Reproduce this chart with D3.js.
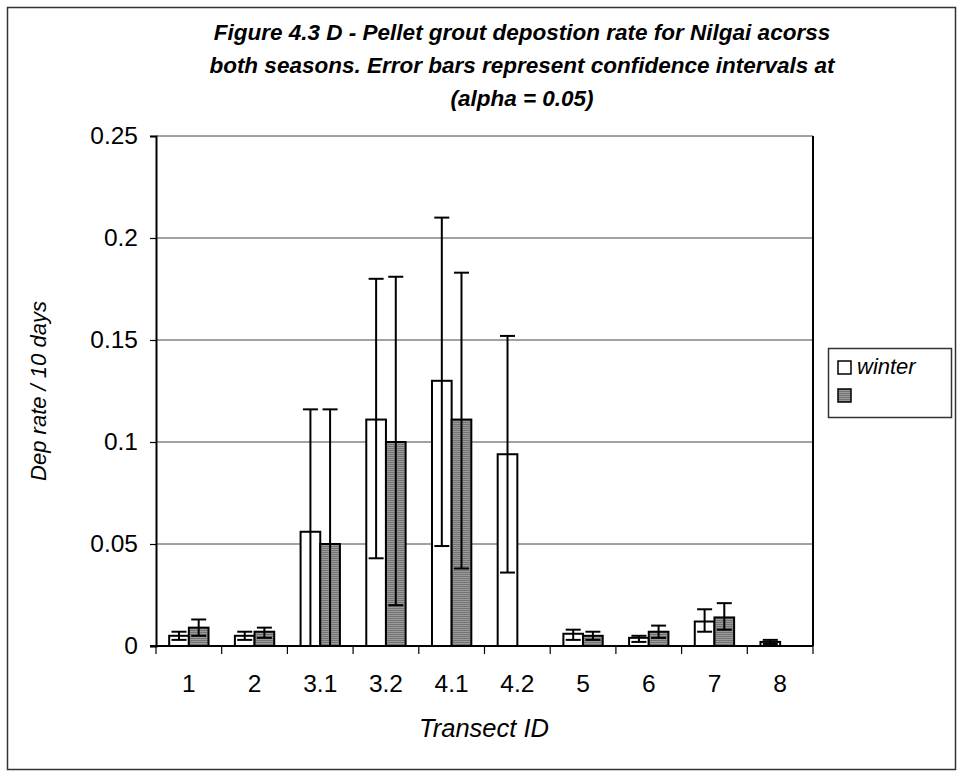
<!DOCTYPE html>
<html>
<head>
<meta charset="utf-8">
<script src="https://cdn.jsdelivr.net/npm/d3@7"></script>
<style>
  body { margin: 0; background: #fff; }
  svg text { font-family: "Liberation Sans", Arial, sans-serif; fill: #000; }
</style>
</head>
<body>
<div id="chart"></div>
<script>
const width = 964,
height = 777;

// transects along the x axis
const transects = ["1", "2", "3.1", "3.2", "4.1", "4.2", "5", "6", "7", "8"];

// winter series, mean and confidence limits
const winter = [0.005, 0.005, 0.056, 0.111, 0.130, 0.094, 0.006, 0.004, 0.012, 0.002];
const winterLow = [0.003, 0.003, -0.004, 0.043, 0.049, 0.036, 0.003, 0.002, 0.007, 0.001];
const winterHigh = [0.007, 0.007, 0.116, 0.180, 0.210, 0.152, 0.008, 0.005, 0.018, 0.003];

// second (unnamed) season
const other = [0.009, 0.007, 0.050, 0.100, 0.111, 0, 0.005, 0.007, 0.014, 0];
const otherLow = [0.005, 0.004, -0.016, 0.020, 0.038, null, 0.003, 0.004, 0.008, null];
const otherHigh = [0.013, 0.009, 0.116, 0.181, 0.183, null, 0.007, 0.010, 0.021, null];

const yTicks = [0, 0.05, 0.1, 0.15, 0.2, 0.25];

const titleLines = [
  "Figure 4.3 D - Pellet grout depostion rate for Nilgai acorss",
  "both seasons. Error bars represent confidence intervals at",
  "(alpha = 0.05)"
];

const plot = {left: 156, right: 813, top: 136, bottom: 646};

let svg = d3.select("#chart").append("svg")
  .attr("width", width)
  .attr("height", height);

// striped grey fill like the old excel pattern
let defs = svg.append("defs");
let pat = defs.append("pattern")
  .attr("id", "greyStripe")
  .attr("patternUnits", "userSpaceOnUse")
  .attr("width", 4)
  .attr("height", 2);
pat.append("rect").attr("width", 4).attr("height", 2).attr("fill", "#9a9a9a");
pat.append("rect").attr("width", 4).attr("height", 1).attr("fill", "#747474");

defs.append("clipPath").attr("id", "plotClip")
  .append("rect")
  .attr("x", plot.left).attr("y", plot.top)
  .attr("width", plot.right - plot.left)
  .attr("height", plot.bottom - plot.top);

// outer chart border
svg.append("rect")
  .attr("x", 7.5).attr("y", 7.5)
  .attr("width", 948).attr("height", 762)
  .attr("fill", "#fff")
  .attr("stroke", "#333")
  .attr("stroke-width", 1.5);

let x = d3.scaleBand()
  .domain(transects)
  .range([plot.left, plot.right])
  .paddingInner(0)
  .paddingOuter(0);

let x1 = d3.scaleBand()
  .domain(["winter", "other"])
  .range([0, x.bandwidth()])
  .paddingInner(0)
  .paddingOuter(0.67);

let y = d3.scaleLinear()
  .domain([0, 0.25])
  .range([plot.bottom, plot.top]);

// gridlines
svg.append("g")
  .selectAll("line")
  .data(yTicks.slice(1))
  .join("line")
  .attr("x1", plot.left).attr("x2", plot.right)
  .attr("y1", d => y(d)).attr("y2", d => y(d))
  .attr("stroke", "#444")
  .attr("stroke-width", 1);

// right border of plot area
svg.append("line")
  .attr("x1", plot.right).attr("x2", plot.right)
  .attr("y1", plot.top).attr("y2", plot.bottom)
  .attr("stroke", "#000")
  .attr("stroke-width", 2);

let rows = transects.map((t, i) => ({
  t: t,
  bars: [
    {key: "winter", v: winter[i], lo: winterLow[i], hi: winterHigh[i]},
    {key: "other", v: other[i], lo: otherLow[i], hi: otherHigh[i]}
  ]
}));

let groups = svg.append("g")
  .attr("clip-path", "url(#plotClip)")
  .selectAll("g")
  .data(rows)
  .join("g")
  .attr("transform", d => "translate(" + x(d.t) + ",0)");

groups.selectAll("rect")
  .data(d => d.bars.filter(b => b.v > 0))
  .join("rect")
  .attr("x", d => x1(d.key))
  .attr("y", d => y(d.v))
  .attr("width", x1.bandwidth())
  .attr("height", d => y(0) - y(d.v))
  .attr("fill", d => d.key === "winter" ? "#fff" : "url(#greyStripe)")
  .attr("stroke", "#000")
  .attr("stroke-width", 2);

// error bars
let errs = groups.selectAll("g.err")
  .data(d => d.bars.filter(b => b.hi !== null))
  .join("g")
  .attr("class", "err")
  .attr("transform", d => "translate(" + (x1(d.key) + x1.bandwidth() / 2) + ",0)");

errs.append("line")
  .attr("y1", d => y(d.lo)).attr("y2", d => y(d.hi))
  .attr("stroke", "#000").attr("stroke-width", 2);

errs.selectAll("line.cap")
  .data(d => [d.lo, d.hi])
  .join("line")
  .attr("class", "cap")
  .attr("x1", -7.5).attr("x2", 7.5)
  .attr("y1", d => y(d)).attr("y2", d => y(d))
  .attr("stroke", "#000").attr("stroke-width", 2);

// y axis
let yAxis = svg.append("g")
  .attr("transform", "translate(" + plot.left + ",0)")
  .call(d3.axisLeft(y).tickValues(yTicks).tickSize(6).tickPadding(12).tickFormat(d => String(d)));
yAxis.select(".domain").attr("stroke-width", 2);
yAxis.selectAll(".tick line").attr("stroke-width", 1.2);
yAxis.selectAll("text").attr("font-size", 24.5);

// x axis with ticks between categories
let xAxis = svg.append("g")
  .attr("transform", "translate(0," + plot.bottom + ")");
xAxis.append("line")
  .attr("x1", plot.left - 6).attr("x2", plot.right)
  .attr("stroke", "#000").attr("stroke-width", 2);
xAxis.selectAll("line.tk")
  .data(transects.concat(["end"]))
  .join("line")
  .attr("class", "tk")
  .attr("x1", (d, i) => plot.left + i * x.step())
  .attr("x2", (d, i) => plot.left + i * x.step())
  .attr("y1", 0).attr("y2", 8)
  .attr("stroke", "#000").attr("stroke-width", 1.2);
xAxis.selectAll("text")
  .data(transects)
  .join("text")
  .attr("x", d => x(d) + x.bandwidth() / 2)
  .attr("y", 46)
  .attr("text-anchor", "middle")
  .attr("font-size", 24.5)
  .text(d => d);

// titles
svg.append("g")
  .selectAll("text")
  .data(titleLines)
  .join("text")
  .attr("x", 522)
  .attr("y", (d, i) => 40 + i * 33)
  .attr("text-anchor", "middle")
  .attr("font-size", 22.5)
  .attr("font-weight", "bold")
  .attr("font-style", "italic")
  .text(d => d);

svg.append("text")
  .attr("transform", "translate(46,391) rotate(-90)")
  .attr("text-anchor", "middle")
  .attr("font-size", 22)
  .attr("font-style", "italic")
  .text("Dep rate / 10 days");

svg.append("text")
  .attr("x", 484)
  .attr("y", 737)
  .attr("text-anchor", "middle")
  .attr("font-size", 25.5)
  .attr("font-style", "italic")
  .text("Transect ID");

// legend
let legend = svg.append("g");
legend.append("rect")
  .attr("x", 828.5).attr("y", 348.5)
  .attr("width", 123).attr("height", 69)
  .attr("fill", "#fff")
  .attr("stroke", "#333")
  .attr("stroke-width", 1.5);

let legendItems = [
  {label: "winter", fill: "#fff"},
  {label: "", fill: "url(#greyStripe)"}
];

let li = legend.selectAll("g.item")
  .data(legendItems)
  .join("g")
  .attr("class", "item")
  .attr("transform", (d, i) => "translate(838," + (361 + i * 28) + ")");
li.append("rect")
  .attr("width", 13).attr("height", 13)
  .attr("fill", d => d.fill)
  .attr("stroke", "#000")
  .attr("stroke-width", 1.5);
li.append("text")
  .attr("x", 19).attr("y", 13)
  .attr("font-size", 22)
  .attr("font-style", "italic")
  .text(d => d.label);
</script>
</body>
</html>
